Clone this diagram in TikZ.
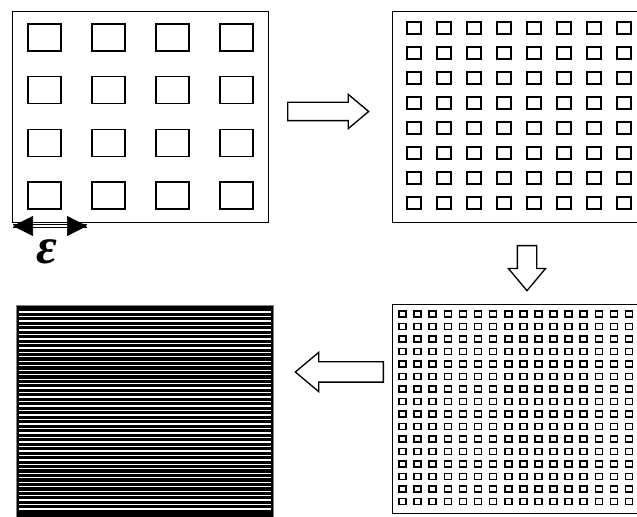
\documentclass[tikz,border=0pt]{standalone}
\usepackage{fontspec}
\newfontfamily\epsfont{Liberation Serif}
\usetikzlibrary{shapes.arrows,arrows.meta}
\newdimen\pxu \pxu=0.75pt
\begin{document}
\begin{tikzpicture}[x=0.75pt, y=-0.75pt,
	panel/.style={draw, line width=1pt, anchor=north west, inner sep=0pt},
	hole/.style={draw, line width=1.2pt},
	block arrow/.style={single arrow, draw, line width=1pt, single arrow tip angle=80,
		single arrow head indent=0pt, inner xsep=0pt, anchor=tail},
	width tips/.style={tips, {Triangle[length=15pt,width=15pt]}-{Triangle[length=15pt,width=15pt]}},
	width shaft/.style={line width=0.9pt, double, double distance=0.8pt}]
	
	\clip (0,0) rectangle (637,517);
	
	\node[panel, minimum width=256\pxu, minimum height=211\pxu] (coarse) at (12,11) {};
	\node[panel, minimum width=253\pxu, minimum height=211\pxu] (medium) at (392,11) {};
	\node[panel, minimum width=253\pxu, minimum height=209\pxu] (fine) at (392,304) {};
	\node[panel, draw=gray, fill=black, minimum width=257\pxu, minimum height=215\pxu] (layered) at (16,305) {};
	
	% holes of the three grids
	\foreach \i in {0,...,3}
	\foreach \j in {0,...,3}
	\draw[hole] (28+64*\i, 24+52.7*\j) rectangle +(33,27);
	\foreach \i in {0,...,7}
	\foreach \j in {0,...,7}
	\draw[hole] (407+30*\i, 22+25*\j) rectangle +(14,12);
	\foreach \i in {0,...,15}
	\foreach \j in {0,...,15}
	\draw[hole] (399+15.1*\i, 311+12.5*\j) rectangle +(7,6);
	
	% white layers
	\foreach \k in {0,...,44}
	\draw[white, line width=1pt] (19, 312+4.48*\k) -- (271, 312+4.48*\k);
	
	\node[block arrow, inner ysep=8.5\pxu, minimum height=81\pxu, single arrow head extend=8\pxu] (a1) at (287,111.5) {};
	\node[block arrow, inner ysep=9\pxu, minimum height=45\pxu, single arrow head extend=9\pxu, rotate=-90] (a2) at (527,245) {};
	\node[block arrow, inner ysep=9.5\pxu, minimum height=88\pxu, single arrow head extend=9.5\pxu, rotate=180] (a3) at (384,372) {};
	
	\coordinate (eps l) at (13,226);
	\coordinate (eps r) at (87,226);
	\draw[width shaft] (eps l) -- (eps r);
	\path[width tips] (eps l) -- (eps r);
	\node[font=\epsfont\bfseries\itshape\fontsize{38}{42}\selectfont] (eps) at (47,252) {ε};
\end{tikzpicture}
\end{document}
